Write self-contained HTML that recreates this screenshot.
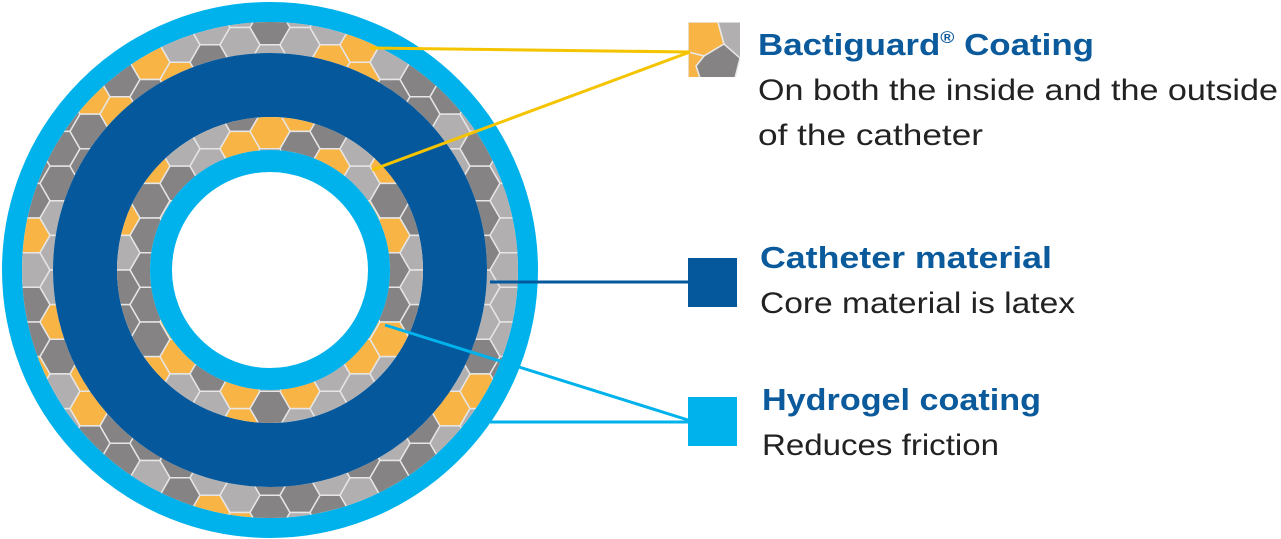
<!DOCTYPE html>
<html><head><meta charset="utf-8"><style>
html,body{margin:0;padding:0;background:#fff;width:1281px;height:539px;overflow:hidden}
svg{display:block}
text{font-family:"Liberation Sans",sans-serif}
</style></head><body>
<svg id="s" width="1281" height="539" viewBox="0 0 1281 539" xmlns="http://www.w3.org/2000/svg">
<defs>
<clipPath id="r1"><path d="M270,22a248,248 0 1,0 0.01,0ZM270,53a217,217 0 1,1 -0.01,0Z" clip-rule="evenodd" fill-rule="evenodd"/></clipPath>
<clipPath id="r2"><path d="M270,117a153,153 0 1,0 0.01,0ZM270,150a120,120 0 1,1 -0.01,0Z" clip-rule="evenodd" fill-rule="evenodd"/></clipPath>
<clipPath id="ic"><rect x="688" y="22" width="52" height="55"/></clipPath>
</defs>
<circle cx="270" cy="270" r="258" fill="none" stroke="#00B2EB" stroke-width="20"/>
<g id="h1" clip-path="url(#r1)"></g>
<circle cx="270" cy="270" r="185" fill="none" stroke="#04589B" stroke-width="64"/>
<g id="h2" clip-path="url(#r2)"></g>
<circle cx="270" cy="270" r="109" fill="none" stroke="#00B2EB" stroke-width="22"/>
<g clip-path="url(#ic)">
<polygon points="688,22 718,22 724,44 704,56 688,52" fill="#F9B446" stroke="#e8e8e8" stroke-width="1.5"/>
<polygon points="718,22 742,22 742,60 735,60 724,44" fill="#B1AFB0" stroke="#e8e8e8" stroke-width="1.5"/>
<polygon points="704,56 724,44 740,58 735,78 700,78 696,66" fill="#858384" stroke="#e8e8e8" stroke-width="1.5"/>
<polygon points="688,52 704,56 696,66 700,78 688,78" fill="#F9B446" stroke="#e8e8e8" stroke-width="1.5"/>
</g>
<g stroke-width="3" fill="none">
<line x1="370" y1="48" x2="690" y2="52" stroke="#F5C400"/>
<line x1="372" y1="170" x2="690" y2="52" stroke="#F5C400"/>
<line x1="490" y1="282" x2="688" y2="282" stroke="#04589B"/>
<line x1="385" y1="325" x2="688" y2="420" stroke="#00B2EB"/>
<line x1="490" y1="422" x2="688" y2="422" stroke="#00B2EB"/>
</g>
<rect x="688" y="258" width="49" height="49" fill="#04589B"/>
<rect x="688" y="397" width="49" height="49" fill="#00B2EB"/>
<g fill="#0A5A9C" font-weight="bold" font-size="31">
<text x="758" y="55" textLength="336" lengthAdjust="spacingAndGlyphs">Bactiguard<tspan font-size="17" dy="-12">®</tspan><tspan dy="12"> Coating</tspan></text>
<text x="760" y="268" textLength="292" lengthAdjust="spacingAndGlyphs">Catheter material</text>
<text x="762" y="410" textLength="279" lengthAdjust="spacingAndGlyphs">Hydrogel coating</text>
</g>
<g fill="#222" font-size="30">
<text x="758" y="100" textLength="520" lengthAdjust="spacingAndGlyphs">On both the inside and the outside</text>
<text x="758" y="145" textLength="225" lengthAdjust="spacingAndGlyphs">of the catheter</text>
<text x="760" y="313" textLength="315" lengthAdjust="spacingAndGlyphs">Core material is latex</text>
<text x="762" y="455" textLength="237" lengthAdjust="spacingAndGlyphs">Reduces friction</text>
</g>
</svg>
<script>
(function(){
var ns="http://www.w3.org/2000/svg";
var cols=["#F9B446","#B1AFB0","#858384","#B1AFB0","#858384"];
var seed=7;function rnd(){seed=(seed*9301+49297)%233280;return seed/233280;}
function fill(id,rmin,rmax){
 var g=document.getElementById(id);var R=20,w=R*1.5,h=R*Math.sqrt(3);
 for(var i=-20;i<=20;i++)for(var j=-20;j<=20;j++){
  var cx=270+i*w,cy=270+j*h+(i%2?h/2:0);
  var d=Math.hypot(cx-270,cy-270);if(d<rmin-R||d>rmax+R)continue;
  var p=[];for(var k=0;k<6;k++){var a=Math.PI/3*k;p.push((cx+R*Math.cos(a)).toFixed(1)+","+(cy+R*Math.sin(a)).toFixed(1));}
  var e=document.createElementNS(ns,"polygon");e.setAttribute("points",p.join(" "));
  e.setAttribute("fill",cols[Math.floor(rnd()*cols.length)]);e.setAttribute("stroke","#e6e6e6");e.setAttribute("stroke-width","1.5");
  g.appendChild(e);}
}
fill("h1",217,248);fill("h2",120,153);
})();
</script>
</body></html>
